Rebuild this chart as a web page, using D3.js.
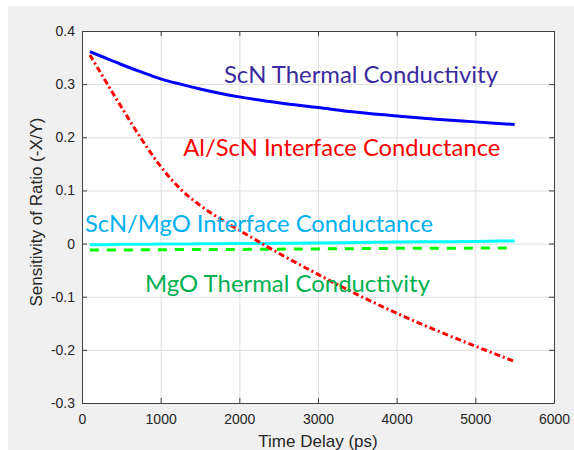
<!DOCTYPE html>
<meta charset="utf-8">
<script src="https://d3js.org/d3.v7.min.js"></script>
<style>
  body { margin: 0; background: #fff; }
  .tick text { font-family: "Liberation Sans", Arial, sans-serif; font-size: 14px; fill: #262626; }
  .note { font-family: Lato, "Open Sans", sans-serif; font-size: 24px; }
</style>
<body>
<div id="chart"></div>
<script>
// time grid (ps) shared by all curves
const timePs = [100, 250, 500, 750, 1000, 1250, 1500, 1750, 2000, 2500, 3000, 3500, 4000, 4500, 5000, 5500];

// sensitivities
const scnThermal  = [0.361, 0.352, 0.337, 0.323, 0.310, 0.300, 0.291, 0.283, 0.276, 0.265, 0.256, 0.247, 0.240, 0.234, 0.229, 0.224];
const alScnIface  = [0.355, 0.318, 0.257, 0.198, 0.145, 0.103, 0.072, 0.047, 0.025, -0.018, -0.058, -0.096, -0.131, -0.163, -0.193, -0.222];
const scnMgoIface = [-0.002, -0.002, -0.0015, -0.0012, -0.001, -0.0008, -0.0005, -0.0002, 0.0, 0.0005, 0.001, 0.002, 0.003, 0.0035, 0.004, 0.005];
const mgoThermal  = [-0.012, -0.012, -0.012, -0.0118, -0.0115, -0.0112, -0.011, -0.011, -0.011, -0.0105, -0.010, -0.0095, -0.009, -0.009, -0.0085, -0.008];

const xTicks = [0, 1000, 2000, 3000, 4000, 5000, 6000];
const yTicks = [-0.3, -0.2, -0.1, 0, 0.1, 0.2, 0.3, 0.4];

// text labels: [text, t, value, color, width]
const labels = [
  ["ScN Thermal Conductivity", 1805, 0.303, "#3a2ca0", 274],
  ["Al/ScN Interface Conductance", 1288, 0.1646, "#ff0000", 317],
  ["ScN/MgO Interface Conductance", 38, 0.0209, "#00b0f0", 348],
  ["MgO Thermal Conductivity", 801, -0.092, "#00b050", 285]
];

var W = 574, H = 450;
var margin = {top: 31, right: 20, bottom: 47, left: 82},
    width = W - margin.left - margin.right,
    height = H - margin.top - margin.bottom;

var root = d3.select("#chart").append("svg")
    .attr("width", W)
    .attr("height", H);

// figure background
root.append("rect").attr("x", 8).attr("y", 6).attr("width", W - 8).attr("height", H - 6).attr("fill", "#f0f0f0");

var svg = root.append("g")
    .attr("transform", "translate(" + margin.left + "," + margin.top + ")");

svg.append("rect").attr("width", width).attr("height", height).attr("fill", "#fff");

var x = d3.scaleLinear().domain([0, 6000]).range([0, width]);
var y = d3.scaleLinear().domain([-0.3, 0.4]).range([height, 0]);

// grid
svg.append("g")
    .attr("transform", "translate(0," + height + ")")
    .call(d3.axisBottom(x).tickValues(xTicks).tickSize(-height).tickFormat(""))
    .call(g => g.select(".domain").remove())
    .call(g => g.selectAll("line").attr("stroke", "#dedede"));
svg.append("g")
    .call(d3.axisLeft(y).tickValues(yTicks).tickSize(-width).tickFormat(""))
    .call(g => g.select(".domain").remove())
    .call(g => g.selectAll("line").attr("stroke", "#dedede"));

// curves
function drawLine(vals, color, w, dash) {
  var line = d3.line()
      .x(function(d, i) { return x(timePs[i]); })
      .y(function(d) { return y(d); })
      .curve(d3.curveMonotoneX);
  svg.append("path")
      .datum(vals)
      .attr("d", line)
      .attr("fill", "none")
      .attr("stroke", color)
      .attr("stroke-width", w)
      .attr("stroke-dasharray", dash);
}
drawLine(mgoThermal, "#00ff00", 3, "9,8");
drawLine(scnMgoIface, "#00ffff", 3, null);
drawLine(scnThermal, "#0000ff", 3, null);
drawLine(alScnIface, "#ff0000", 3, "6,3,2,3");

// labels
labels.forEach(function(l) {
  svg.append("text")
      .attr("class", "note")
      .attr("x", x(l[1]))
      .attr("y", y(l[2]))
      .attr("fill", l[3])
      .attr("textLength", l[4])
      .attr("lengthAdjust", "spacingAndGlyphs")
      .text(l[0]);
});

// axes, ticks pointing inward
var axisCol = "#404040";
var fmt = function(d) { return d === 0 ? "0" : d.toFixed(1); };

svg.append("g")
    .attr("transform", "translate(0," + height + ")")
    .call(d3.axisBottom(x).tickValues(xTicks).tickFormat(d3.format("d")).tickSizeInner(-5).tickSizeOuter(0).tickPadding(11))
    .call(g => g.selectAll("line, .domain").attr("stroke", axisCol));
svg.append("g")
    .call(d3.axisTop(x).tickValues(xTicks).tickSizeInner(-5).tickSizeOuter(0).tickFormat(""))
    .call(g => g.selectAll("line, .domain").attr("stroke", axisCol));
svg.append("g")
    .call(d3.axisLeft(y).tickValues(yTicks).tickFormat(fmt).tickSizeInner(-5).tickSizeOuter(0).tickPadding(7))
    .call(g => g.selectAll("line, .domain").attr("stroke", axisCol));
svg.append("g")
    .attr("transform", "translate(" + width + ",0)")
    .call(d3.axisRight(y).tickValues(yTicks).tickSizeInner(-5).tickSizeOuter(0).tickFormat(""))
    .call(g => g.selectAll("line, .domain").attr("stroke", axisCol));

// axis titles
root.append("text")
    .attr("x", margin.left + width / 2)
    .attr("y", 447)
    .attr("text-anchor", "middle")
    .style("font-family", "'Liberation Sans', Arial, sans-serif")
    .style("font-size", "17px")
    .attr("fill", "#262626")
    .text("Time Delay (ps)");

root.append("text")
    .attr("transform", "translate(42," + 212 + ")rotate(-90)")
    .attr("text-anchor", "middle")
    .style("font-family", "'Liberation Sans', Arial, sans-serif")
    .style("font-size", "17px")
    .attr("fill", "#262626")
    .text("Sensitivity of Ratio (-X/Y)");
</script>
</body>
